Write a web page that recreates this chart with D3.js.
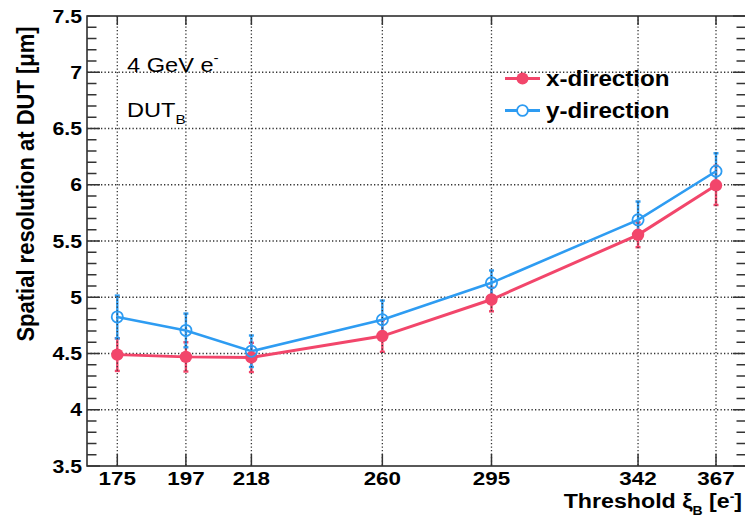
<!DOCTYPE html>
<html>
<head>
<meta charset="utf-8">
<script src="https://cdn.jsdelivr.net/npm/d3@7"></script>
<style>
  html, body { margin: 0; padding: 0; background: #fff; }
  svg { display: block; }
  text { font-family: "Liberation Sans", Arial, Helvetica, sans-serif; fill: #000; }
</style>
</head>
<body>
<svg id="chart" width="745" height="518"></svg>
<script>
// Threshold values (x positions) and their tick labels
const thresholds = [175, 197, 218, 260, 295, 342, 367];
const xTickLabels = ["175", "197", "218", "260", "295", "342", "367"];

// Spatial resolution [um] per threshold, with statistical errors
const xDirection    = [4.49, 4.47, 4.465, 4.655, 4.98, 5.555, 5.995];
const xDirectionErr = [0.145, 0.13, 0.13, 0.14, 0.105, 0.11, 0.175];
const yDirection    = [4.825, 4.705, 4.52, 4.80, 5.128, 5.688, 6.12];
const yDirectionErr = [0.19, 0.15, 0.14, 0.17, 0.11, 0.163, 0.16];

// Y axis major tick labels
const yTicks = [3.5, 4, 4.5, 5, 5.5, 6, 6.5, 7, 7.5];
const yTickLabels = ["3.5", "4", "4.5", "5", "5.5", "6", "6.5", "7", "7.5"];

const seriesNames = ["x-direction", "y-direction"];
const RED = "#f2466b";
const BLUE = "#2e9cf2";

const svg = d3.select("#chart");
const frame = { left: 87, right: 746, top: 16, bottom: 466 };

const x = d3.scaleLinear().domain([175, 367]).range([117.3, 716]);
const y = d3.scaleLinear().domain([3.5, 7.5]).range([frame.bottom, frame.top]);

const SX = 1.18; // horizontal glyph stretch

function stretchedText(g, tx, ty, str, opts) {
  const t = g.append("text")
    .attr("transform", `translate(${tx},${ty}) scale(${opts.sx || SX},1)`)
    .attr("font-size", opts.size)
    .attr("font-weight", opts.weight || "normal")
    .attr("text-anchor", opts.anchor || "start");
  return t;
}

// ---- grid (dotted) ----
const grid = svg.append("g").attr("class", "grid");

// ---- error bars ----
const bars = svg.append("g").attr("class", "errbars");
function drawErrBars(vals, errs, color) {
  thresholds.forEach((t, i) => {
    const cx = x(t);
    const y0 = y(vals[i] - errs[i]), y1 = y(vals[i] + errs[i]);
    bars.append("line").attr("x1", cx).attr("x2", cx).attr("y1", y0).attr("y2", y1)
      .attr("stroke", color).attr("stroke-width", 2.4);
    [y0, y1].forEach(yy => bars.append("line")
      .attr("x1", cx - 2.5).attr("x2", cx + 2.5).attr("y1", yy).attr("y2", yy)
      .attr("stroke", color).attr("stroke-width", 2.4));
  });
}
drawErrBars(xDirection, xDirectionErr, RED);
drawErrBars(yDirection, yDirectionErr, BLUE);

// grid lines drawn over the error bars
grid.raise();
const dot = { stroke: "#333", "stroke-width": 1.3, "stroke-dasharray": "1.3,2.2" };
thresholds.forEach(t => {
  const l = grid.append("line").attr("x1", x(t)).attr("x2", x(t))
    .attr("y1", frame.top).attr("y2", frame.bottom);
  Object.entries(dot).forEach(([k, v]) => l.attr(k, v));
});
yTicks.slice(1, -1).forEach(v => {
  const l = grid.append("line").attr("x1", frame.left).attr("x2", frame.right)
    .attr("y1", y(v)).attr("y2", y(v));
  Object.entries(dot).forEach(([k, v2]) => l.attr(k, v2));
});

// ---- lines and markers ----
const line = d3.line().x((d, i) => x(thresholds[i])).y(d => y(d));
const plot = svg.append("g");
plot.append("path").datum(xDirection).attr("d", line)
  .attr("fill", "none").attr("stroke", RED).attr("stroke-width", 3);
plot.append("path").datum(yDirection).attr("d", line)
  .attr("fill", "none").attr("stroke", BLUE).attr("stroke-width", 2.6);

plot.selectAll("circle.xd").data(xDirection).join("circle").attr("class", "xd")
  .attr("cx", (d, i) => x(thresholds[i])).attr("cy", d => y(d)).attr("r", 6.2)
  .attr("fill", RED);
plot.selectAll("circle.yd").data(yDirection).join("circle").attr("class", "yd")
  .attr("cx", (d, i) => x(thresholds[i])).attr("cy", d => y(d)).attr("r", 5.6)
  .attr("fill", "none").attr("stroke", BLUE).attr("stroke-width", 1.8);

// ---- frame and axes ----
const axes = svg.append("g");
axes.append("rect").attr("x", frame.left).attr("y", frame.top)
  .attr("width", frame.right - frame.left).attr("height", frame.bottom - frame.top)
  .attr("fill", "none").attr("stroke", "#222").attr("stroke-width", 1.5);

// y ticks: majors every 0.5, minors every 0.1 (both sides)
const minor = d3.range(35, 76).map(v => v / 10);
minor.forEach(v => {
  const isMajor = Math.abs(v * 2 - Math.round(v * 2)) < 1e-6;
  const len = isMajor ? 13 : 9.5;
  axes.append("line").attr("x1", frame.left).attr("x2", frame.left + len)
    .attr("y1", y(v)).attr("y2", y(v)).attr("stroke", "#333").attr("stroke-width", 1.5);
  axes.append("line").attr("x1", frame.right).attr("x2", frame.right - len)
    .attr("y1", y(v)).attr("y2", y(v)).attr("stroke", "#333").attr("stroke-width", 1.5);
});
// x ticks at threshold values (bottom and top)
thresholds.forEach(t => {
  axes.append("line").attr("x1", x(t)).attr("x2", x(t))
    .attr("y1", frame.bottom).attr("y2", frame.bottom - 12)
    .attr("stroke", "#333").attr("stroke-width", 1.5);
  axes.append("line").attr("x1", x(t)).attr("x2", x(t))
    .attr("y1", frame.top).attr("y2", frame.top + 9)
    .attr("stroke", "#333").attr("stroke-width", 1.5);
});

// tick labels
const labels = svg.append("g");
yTicks.forEach((v, i) => {
  stretchedText(labels, 82, y(v) + 6.5, yTickLabels[i], { size: 18, weight: "bold", anchor: "end" })
    .text(yTickLabels[i]);
});
thresholds.forEach((t, i) => {
  stretchedText(labels, x(t), 485, xTickLabels[i], { size: 19, weight: "bold", anchor: "middle" })
    .text(xTickLabels[i]);
});

// axis titles
const xt = stretchedText(labels, 742, 508, "", { size: 20, weight: "bold", anchor: "end", sx: 1.16 });
xt.append("tspan").text("Threshold ");
xt.append("tspan").text("ξ");
xt.append("tspan").attr("font-size", 12).attr("dy", 7).text("B");
xt.append("tspan").attr("dy", -7).text(" [e");
xt.append("tspan").attr("font-size", 12).attr("dy", -7).text("-");
xt.append("tspan").attr("dy", 7).text("]");

labels.append("text")
  .attr("transform", `translate(34,184) rotate(-90) scale(1,1.1)`)
  .attr("text-anchor", "middle").attr("font-size", 22).attr("font-weight", "bold")
  .text("Spatial resolution at DUT [μm]");

// annotations
const a1 = stretchedText(labels, 127, 72, "", { size: 20 });
a1.append("tspan").text("4 GeV e");
a1.append("tspan").attr("font-size", 13).attr("dy", -10).text("-");
const a2 = stretchedText(labels, 127, 117, "", { size: 20 });
a2.append("tspan").text("DUT");
a2.append("tspan").attr("font-size", 13).attr("dy", 7).text("B");

// legend
const legend = svg.append("g");
[{ name: seriesNames[0], color: RED, filled: true, yy: 78.5 },
 { name: seriesNames[1], color: BLUE, filled: false, yy: 110.5 }].forEach(e => {
  legend.append("line").attr("x1", 505).attr("x2", 540).attr("y1", e.yy).attr("y2", e.yy)
    .attr("stroke", e.color).attr("stroke-width", 3);
  legend.append("circle").attr("cx", 522.5).attr("cy", e.yy).attr("r", e.filled ? 6 : 5.4)
    .attr("fill", e.filled ? e.color : "#fff").attr("stroke", e.color)
    .attr("stroke-width", e.filled ? 0 : 1.8);
  stretchedText(legend, 546, e.yy + 7.5, e.name, { size: 22, weight: "bold", sx: 1.1 }).text(e.name);
});
</script>
</body>
</html>
